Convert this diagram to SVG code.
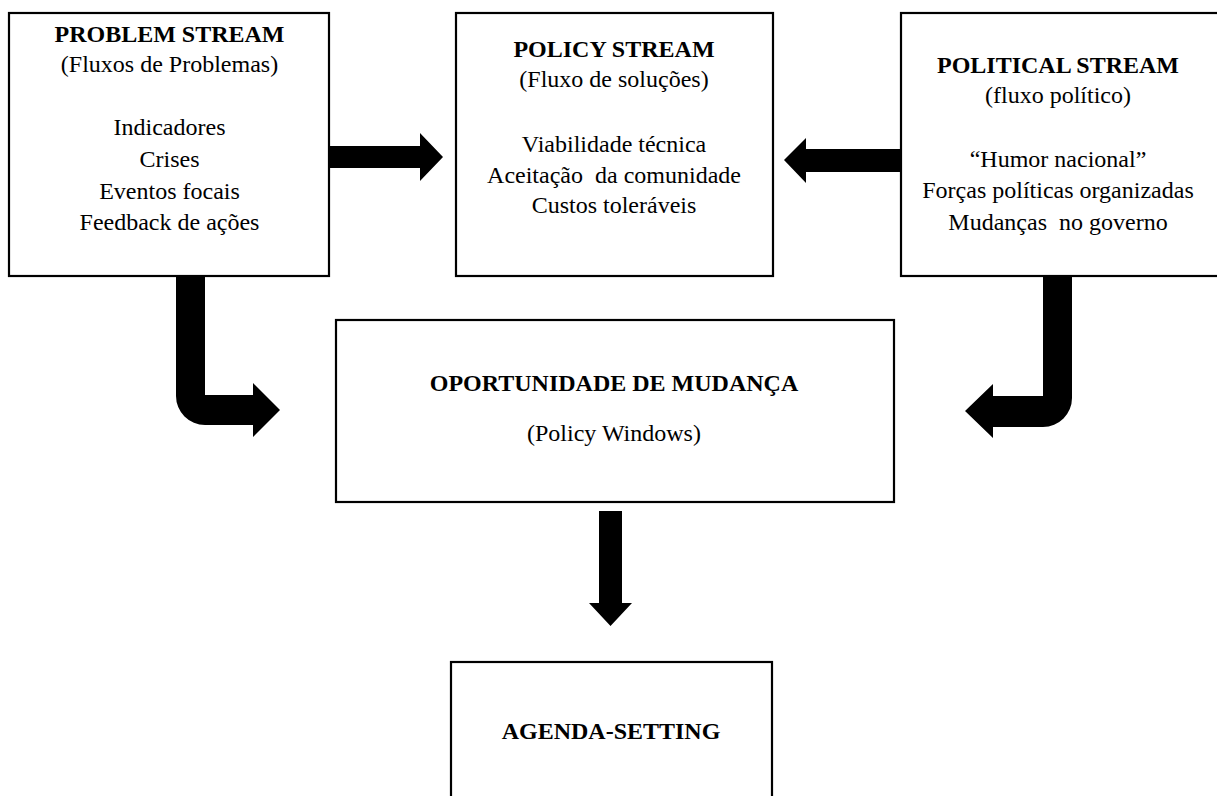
<svg xmlns="http://www.w3.org/2000/svg" width="1217" height="796" viewBox="0 0 1217 796">
<style>
.box{fill:#fff;stroke:#000;stroke-width:2.2}
text{font-family:"Liberation Serif","Times New Roman",serif;font-size:24px;fill:#000;text-anchor:middle}
.b{font-weight:bold}
.arr{fill:#000;stroke:none}
</style>
<rect width="1217" height="796" fill="#fff"/>
<g id="connectors">
<path class="arr" d="M330,146 L420,146 L420,133 L443,157 L420,181 L420,168 L330,168 Z"/>
<path class="arr" d="M900,149 L806,149 L806,138 L784,160 L806,183 L806,172 L900,172 Z"/>
<path class="arr" d="M176,276 L205,276 L205,395 L253,395 L253,383 L280,410 L253,437 L253,425 L205,425 A29,29 0 0 1 176,396 Z"/>
<path class="arr" d="M1043,276 L1072,276 L1072,398 A29,29 0 0 1 1043,427 L993,427 L993,438 L965,411 L993,384 L993,396 L1043,396 Z"/>
<path class="arr" d="M599,511 L622,511 L622,603 L632,603 L610.5,626 L589,603 L599,603 Z"/>
</g>
<g id="problem-stream">
<rect class="box" x="9" y="13" width="320" height="263"/>
<text class="b" x="169.5" y="42">PROBLEM STREAM</text>
<text x="169.5" y="72">(Fluxos de Problemas)</text>
<text x="169.5" y="135">Indicadores</text>
<text x="169.5" y="167">Crises</text>
<text x="169.5" y="199">Eventos focais</text>
<text x="169.5" y="230">Feedback de ações</text>
</g>
<g id="policy-stream">
<rect class="box" x="456" y="13" width="317" height="263"/>
<text class="b" x="614" y="57">POLICY STREAM</text>
<text x="614" y="87">(Fluxo de soluções)</text>
<text x="614" y="152">Viabilidade técnica</text>
<text x="614" y="183" xml:space="preserve">Aceitação  da comunidade</text>
<text x="614" y="213">Custos toleráveis</text>
</g>
<g id="political-stream">
<rect class="box" x="901" y="13" width="330" height="263"/>
<text class="b" x="1058" y="73">POLITICAL STREAM</text>
<text x="1058" y="103">(fluxo político)</text>
<text x="1058" y="167">“Humor nacional”</text>
<text x="1058" y="198">Forças políticas organizadas</text>
<text x="1058" y="230" xml:space="preserve">Mudanças  no governo</text>
</g>
<g id="policy-windows">
<rect class="box" x="336" y="320" width="558" height="182"/>
<text class="b" x="614" y="391">OPORTUNIDADE DE MUDANÇA</text>
<text x="614" y="441">(Policy Windows)</text>
</g>
<g id="agenda-setting">
<rect class="box" x="451" y="662" width="321" height="150"/>
<text class="b" x="611" y="739">AGENDA-SETTING</text>
</g>
</svg>
